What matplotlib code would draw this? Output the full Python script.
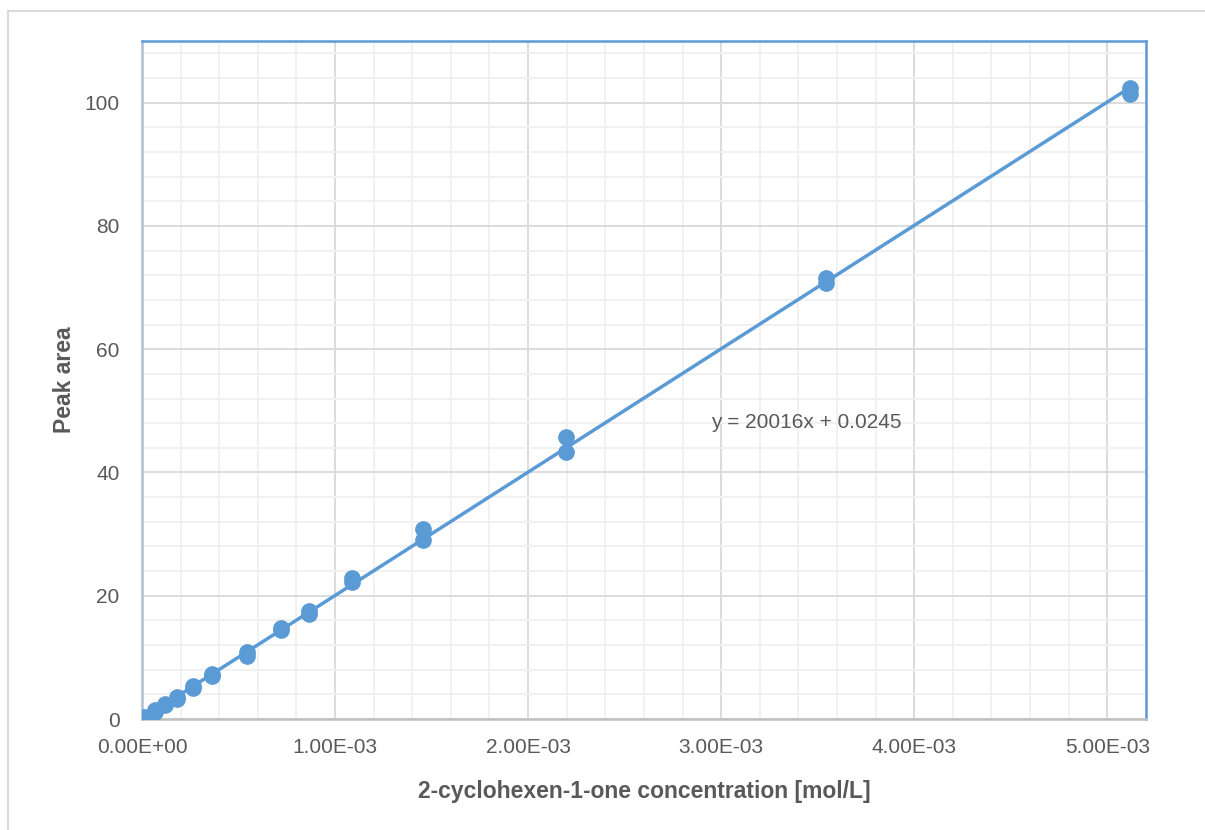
import numpy as np
import matplotlib.pyplot as plt
from matplotlib.patches import Rectangle
from matplotlib.ticker import MultipleLocator, FuncFormatter

# concentration [mol/L], two replicates per level
conc = [1.0e-5, 1.0e-5, 6.7e-5, 6.7e-5, 1.19e-4, 1.19e-4, 1.80e-4, 1.80e-4,
        2.66e-4, 2.66e-4, 3.61e-4, 3.61e-4, 5.42e-4, 5.42e-4, 7.20e-4, 7.20e-4,
        8.65e-4, 8.65e-4, 1.087e-3, 1.087e-3, 1.454e-3, 1.454e-3,
        2.195e-3, 2.195e-3, 3.542e-3, 3.542e-3, 5.119e-3, 5.119e-3]
area = [0.2, 0.4, 1.2, 1.4, 2.2, 2.4, 3.3, 3.6,
        5.0, 5.3, 6.9, 7.3, 10.2, 10.9, 14.5, 14.8,
        17.1, 17.5, 22.3, 22.8, 29.1, 30.9,
        43.4, 45.8, 70.8, 71.5, 101.4, 102.4]

# trendline as printed on the chart
slope = 20016
intercept = 0.0245
eq_label = "y = 20016x + 0.0245"

blue = '#5b9bd5'
txt = '#595959'

plt.rcParams['font.family'] = ['Liberation Sans', 'DejaVu Sans']

fig = plt.figure(figsize=(12.05, 8.3), dpi=100)
ax = fig.add_axes([0.1178, 0.1337, 0.8332, 0.8169])

# outer chart border
fig.patches.append(Rectangle((0.0066, -0.1), 1.2, 1.0867, transform=fig.transFigure,
                             fill=False, edgecolor='#d9d9d9', linewidth=1.5))

x_line = np.array([0, max(conc)])
ax.plot(x_line, slope * x_line + intercept, color=blue, linewidth=2.5, zorder=3)
ax.plot(conc, area, 'o', color=blue, markersize=11, zorder=4)

ax.set_xlim(0, 5.2e-3)
ax.set_ylim(0, 110)
ax.xaxis.set_major_locator(MultipleLocator(1e-3))
ax.xaxis.set_minor_locator(MultipleLocator(2e-4))
ax.yaxis.set_major_locator(MultipleLocator(20))
ax.yaxis.set_minor_locator(MultipleLocator(4))
ax.xaxis.set_major_formatter(FuncFormatter(lambda v, p: '%.2E' % v))
ax.set_yticks([0, 20, 40, 60, 80, 100])

ax.grid(which='major', color='#d9d9d9', linewidth=1.3, zorder=0)
ax.grid(which='minor', color='#f0f0f0', linewidth=1.3, zorder=0)
ax.set_axisbelow(True)

ax.tick_params(which='both', length=0, labelsize=15, labelcolor=txt)
ax.tick_params(axis='y', pad=16)
ax.tick_params(axis='x', pad=14)

ax.spines['top'].set_color(blue)
ax.spines['right'].set_color(blue)
ax.spines['left'].set_color('#adc0d3')
ax.spines['bottom'].set_color('#bfbfbf')
for s in ax.spines.values():
    s.set_linewidth(1.8)

ax.set_xlabel('2-cyclohexen-1-one concentration [mol/L]', fontsize=16.5,
              fontweight='bold', color=txt, labelpad=16)
ax.set_ylabel('Peak area', fontsize=16.5, fontweight='bold', color=txt, labelpad=6)

ax.text(3.44e-3, 48.1, eq_label, fontsize=15, color=txt, ha='center', va='center')

fig.savefig('out.png', dpi=100)
